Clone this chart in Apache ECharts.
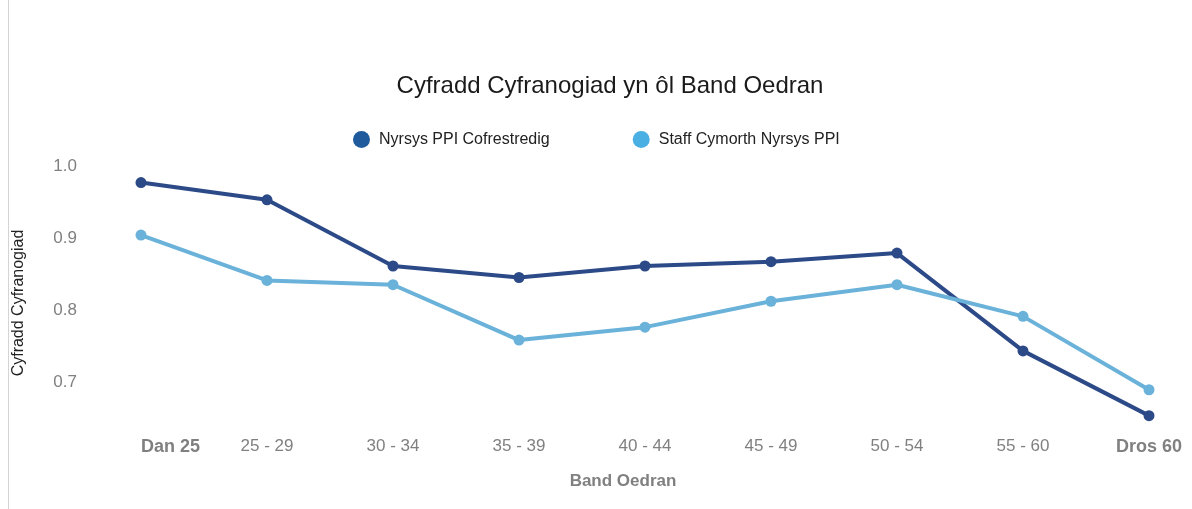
<!DOCTYPE html>
<html>
<head>
<meta charset="utf-8">
<script src="https://cdn.jsdelivr.net/npm/echarts@6/dist/echarts.min.js"></script>
<style>
html,body{margin:0;padding:0;background:#fff;}
#chart{width:1192px;height:509px;}
</style>
</head>
<body>
<div id="chart"></div>
<script>
const categories = ['Dan 25','25 - 29','30 - 34','35 - 39','40 - 44','45 - 49','50 - 54','55 - 60','Dros 60'];
const seriesNames = ['Nyrsys PPI Cofrestredig','Staff Cymorth Nyrsys PPI'];
const registeredNurses = [0.977, 0.953, 0.861, 0.845, 0.861, 0.867, 0.879, 0.743, 0.653];
const supportStaff = [0.904, 0.841, 0.835, 0.758, 0.776, 0.812, 0.835, 0.791, 0.689];

const chart = echarts.init(document.getElementById('chart'), null, {renderer:'canvas'});
const gray = '#808080';
const lastIdx = categories.length - 1;

chart.setOption({
  backgroundColor: '#ffffff',
  animation: false,
  graphic: [{
    type: 'line',
    shape: {x1: 8.5, y1: 0, x2: 8.5, y2: 509},
    style: {stroke: '#d4d4d4', lineWidth: 1}
  }],
  title: {
    text: 'Cyfradd Cyfranogiad yn ôl Band Oedran',
    left: 605,
    textAlign: 'center',
    top: 69,
    textStyle: {fontFamily: 'Liberation Sans, Arial, sans-serif', fontSize: 24, fontWeight: 'normal', color: '#1a1a1a'}
  },
  legend: {
    left: 348,
    top: 126,
    itemWidth: 17,
    itemHeight: 17,
    itemGap: 83,
    icon: 'circle',
    data: [
      {name: seriesNames[0], itemStyle: {color: '#1f5a9c'}},
      {name: seriesNames[1], itemStyle: {color: '#4aafe2'}}
    ],
    textStyle: {fontFamily: 'Liberation Sans, Arial, sans-serif', fontSize: 16, color: '#222', padding: [0,0,0,4]}
  },
  grid: {left: 141, right: 43, top: 166, bottom: 84, containLabel: false},
  xAxis: {
    type: 'category',
    data: categories,
    boundaryGap: false,
    axisLine: {show: false},
    axisTick: {show: false},
    splitLine: {show: false},
    name: 'Band Oedran',
    nameLocation: 'middle',
    nameGap: 48,
    nameTextStyle: {fontFamily: 'Liberation Sans, Arial, sans-serif', fontSize: 17, fontWeight: 'bold', color: gray, padding: [0,44,0,0]},
    axisLabel: {
      margin: 13,
      interval: 0,
      alignMinLabel: 'left',
      formatter: function (v, i) {
        return (i === 0 || i === lastIdx) ? '{b|' + v + '}' : '{n|' + v + '}';
      },
      rich: {
        b: {fontFamily: 'Liberation Sans, Arial, sans-serif', fontSize: 18, fontWeight: 'bold', color: gray},
        n: {fontFamily: 'Liberation Sans, Arial, sans-serif', fontSize: 17, color: gray}
      }
    }
  },
  yAxis: {
    type: 'value',
    min: 0.64,
    max: 1.0,
    splitNumber: 4,
    axisLine: {show: false},
    axisTick: {show: false},
    splitLine: {show: false},
    name: 'Cyfradd Cyfranogiad',
    nameLocation: 'middle',
    nameGap: 114,
    nameTextStyle: {fontFamily: 'Liberation Sans, Arial, sans-serif', fontSize: 16, color: '#222', padding: [0,15,0,0]},
    axisLabel: {
      margin: 64,
      fontFamily: 'Liberation Sans, Arial, sans-serif',
      fontSize: 17,
      color: gray,
      formatter: function (v) {
        const t = v * 10;
        return Math.abs(t - Math.round(t)) < 1e-6 ? v.toFixed(1) : '';
      }
    }
  },
  series: [
    {
      name: seriesNames[0],
      type: 'line',
      data: registeredNurses,
      symbol: 'circle',
      symbolSize: 11,
      clip: false,
      lineStyle: {color: '#2c4a87', width: 4},
      itemStyle: {color: '#2c4a87'}
    },
    {
      name: seriesNames[1],
      type: 'line',
      data: supportStaff,
      symbol: 'circle',
      symbolSize: 11,
      clip: false,
      lineStyle: {color: '#6ab2d9', width: 4},
      itemStyle: {color: '#6ab2d9'}
    }
  ]
});
</script>
</body>
</html>
